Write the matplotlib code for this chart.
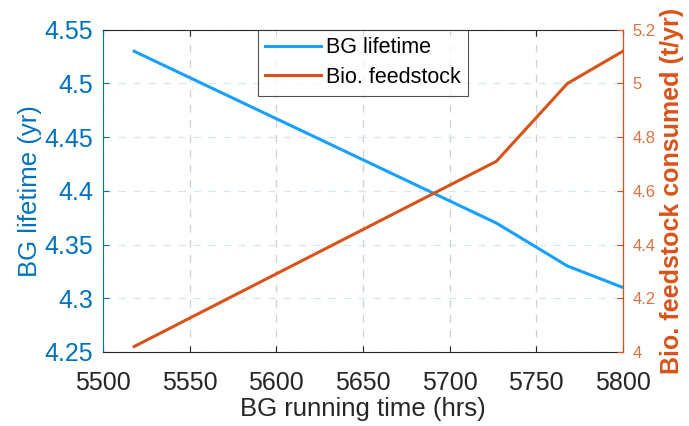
import numpy as np
import matplotlib.pyplot as plt

plt.rcParams['font.family'] = ['Liberation Sans', 'DejaVu Sans']

# data
run_hrs = [5518, 5727, 5768, 5800]
bg_life = [4.53, 4.37, 4.33, 4.31]
feed = [4.02, 4.71, 5.00, 5.12]

xticks = [5500, 5550, 5600, 5650, 5700, 5750, 5800]
lticks = [4.25, 4.3, 4.35, 4.4, 4.45, 4.5, 4.55]
rticks = [4, 4.2, 4.4, 4.6, 4.8, 5, 5.2]

c_left = '#0072BD'
c_line = '#18A0FF'
c_right = '#D95319'
c_rtick = '#E07040'

fig = plt.figure(figsize=(6.89, 4.26), dpi=100)
ax = fig.add_axes([0.1495, 0.174, 0.7545, 0.756])
ax2 = ax.twinx()

l1, = ax.plot(run_hrs, bg_life, color=c_line, lw=2.2, label='BG lifetime')
l2, = ax2.plot(run_hrs, feed, color=c_right, lw=2.2, label='Bio. feedstock')

ax.set_xlim(5500, 5800)
ax.set_ylim(4.25, 4.55)
ax2.set_ylim(4, 5.2)

ax.set_xticks(xticks)
ax.set_xticklabels([str(v) for v in xticks], fontsize=18, color='#262626')
ax.set_yticks(lticks)
ax.set_yticklabels(['%g' % v for v in lticks], fontsize=18, color=c_left)
ax2.set_yticks(rticks)
ax2.set_yticklabels(['%g' % v for v in rticks], fontsize=12, color=c_rtick)

ax.tick_params(axis='x', direction='in', length=4, color='#262626', pad=14, top=True)
ax.tick_params(axis='y', direction='in', length=4, color=c_left, pad=7)
ax2.tick_params(axis='y', direction='in', length=4, color=c_right, pad=7)

ax.grid(axis='x', ls=(0, (6, 6)), color='#cfcfcf', lw=0.9)
ax.grid(axis='y', ls=(0, (6, 6)), color='#d6e6f3', lw=0.9)

for s in ['top', 'bottom']:
    ax.spines[s].set_color('#262626')
ax.spines['left'].set_color(c_left)
ax2.spines['right'].set_color(c_right)
ax2.spines['left'].set_visible(False)
ax2.spines['top'].set_visible(False)
ax2.spines['bottom'].set_visible(False)

ax.set_xlabel('BG running time (hrs)', fontsize=18.5, color='#262626', labelpad=1)
ax.set_ylabel('BG lifetime (yr)', fontsize=18.5, color=c_left, labelpad=2)
ax2.set_ylabel('Bio. feedstock consumed (t/yr)', fontsize=18, color=c_right,
               fontweight='bold', labelpad=3)

leg = ax2.legend(handles=[l1, l2], loc='upper center', bbox_to_anchor=(0.5, 1.0),
                 fontsize=15.5, frameon=True, fancybox=False, edgecolor='#262626',
                 handlelength=2.6, borderaxespad=0, borderpad=0.35, labelspacing=0.4,
                 handletextpad=0.2)
leg.get_frame().set_linewidth(0.8)

fig.savefig('out.png', dpi=100)
